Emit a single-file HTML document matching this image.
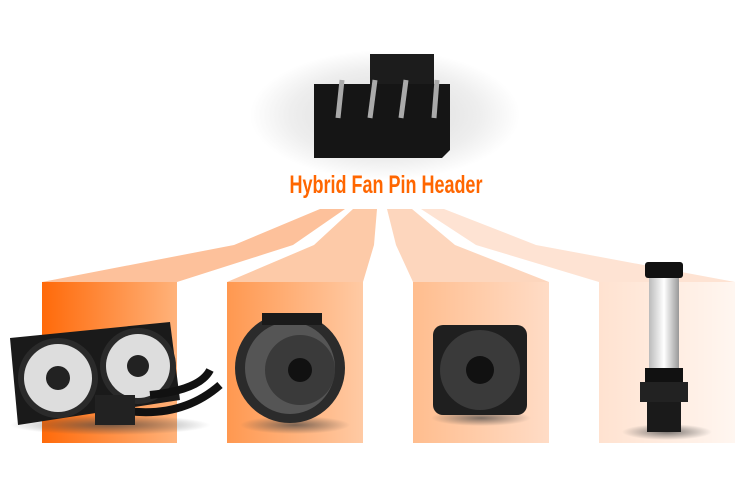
<!DOCTYPE html>
<html><head><meta charset="utf-8"><style>
html,body{margin:0;padding:0;background:#fff;width:735px;height:501px;overflow:hidden;font-family:"Liberation Sans",sans-serif}
</style></head><body>
<svg width="735" height="501" viewBox="0 0 735 501" xmlns="http://www.w3.org/2000/svg">
<defs>
<linearGradient id="g1" x1="0" x2="1"><stop offset="0" stop-color="#ff6a0a"/><stop offset="1" stop-color="#ffb27a"/></linearGradient>
<linearGradient id="g2" x1="0" x2="1"><stop offset="0" stop-color="#ff9850"/><stop offset="1" stop-color="#ffcaa4"/></linearGradient>
<linearGradient id="g3" x1="0" x2="1"><stop offset="0" stop-color="#ffbd8e"/><stop offset="1" stop-color="#ffdcc6"/></linearGradient>
<linearGradient id="g4" x1="0" x2="1"><stop offset="0" stop-color="#ffe2d0"/><stop offset="1" stop-color="#fff6f0"/></linearGradient>
<radialGradient id="bg" cx="0.5" cy="0.5" r="0.5"><stop offset="0" stop-color="#d8d8d8"/><stop offset="0.7" stop-color="#eee"/><stop offset="1" stop-color="#fff"/></radialGradient>
<radialGradient id="sh" cx="0.5" cy="0.5" r="0.5"><stop offset="0" stop-color="#444" stop-opacity=".7"/><stop offset="1" stop-color="#444" stop-opacity="0"/></radialGradient>
<linearGradient id="tube" x1="0" x2="1"><stop offset="0" stop-color="#bbb"/><stop offset=".5" stop-color="#fff"/><stop offset="1" stop-color="#999"/></linearGradient>
</defs>
<ellipse cx="385" cy="115" rx="135" ry="65" fill="url(#bg)"/>
<rect x="370" y="54" width="64" height="30" fill="#1c1c1c"/>
<polygon points="314,84 450,84 450,150 442,158 314,158" fill="#151515"/>
<g stroke="#aaa" stroke-width="5"><line x1="342" y1="80" x2="338" y2="118"/><line x1="375" y1="80" x2="370" y2="118"/><line x1="406" y1="80" x2="401" y2="118"/><line x1="437" y1="80" x2="434" y2="118"/></g>
<text x="386" y="193" text-anchor="middle" font-size="25" font-weight="bold" fill="#ff6600" transform="translate(386 0) scale(0.72 1) translate(-386 0)">Hybrid Fan Pin Header</text>
<polygon points="320,209 345,209 293,245 177,282 42,282 234,245" fill="#fdc19b"/>
<polygon points="353,209 377,209 374,245 363,282 227,282 314,245" fill="#fdcaa8"/>
<polygon points="387,209 412,209 455,245 549,282 413,282 396,245" fill="#fdd6bd"/>
<polygon points="421,209 444,209 536,245 735,282 599,282 476,245" fill="#fee3d3"/>
<rect x="42" y="282" width="135" height="161" fill="url(#g1)"/>
<rect x="227" y="282" width="136" height="161" fill="url(#g2)"/>
<rect x="413" y="282" width="136" height="161" fill="url(#g3)"/>
<rect x="599" y="282" width="136" height="161" fill="url(#g4)"/>
<ellipse cx="110" cy="425" rx="100" ry="10" fill="url(#sh)"/>
<ellipse cx="295" cy="425" rx="55" ry="9" fill="url(#sh)"/>
<ellipse cx="481" cy="418" rx="50" ry="8" fill="url(#sh)"/>
<ellipse cx="667" cy="432" rx="45" ry="8" fill="url(#sh)"/>
<polygon points="10,338 170,322 180,400 18,425" fill="#1a1a1a"/>
<circle cx="58" cy="378" r="40" fill="#2a2a2a"/><circle cx="58" cy="378" r="34" fill="#ddd"/><circle cx="58" cy="378" r="12" fill="#222"/>
<circle cx="138" cy="366" r="38" fill="#2a2a2a"/><circle cx="138" cy="366" r="32" fill="#ddd"/><circle cx="138" cy="366" r="11" fill="#222"/>
<path d="M150 395 Q200 390 210 370 M120 410 Q180 420 220 385" stroke="#111" stroke-width="8" fill="none"/>
<rect x="95" y="395" width="40" height="30" fill="#222"/>
<ellipse cx="290" cy="368" rx="55" ry="55" fill="#2b2b2b"/>
<ellipse cx="290" cy="368" rx="45" ry="46" fill="#555"/>
<circle cx="300" cy="370" r="35" fill="#3a3a3a"/><circle cx="300" cy="370" r="12" fill="#111"/>
<rect x="262" y="313" width="60" height="12" fill="#1a1a1a"/>
<rect x="433" y="325" width="94" height="90" rx="10" fill="#1f1f1f"/>
<circle cx="480" cy="370" r="40" fill="#3a3a3a"/><circle cx="480" cy="370" r="14" fill="#111"/>
<rect x="645" y="262" width="38" height="16" rx="3" fill="#111"/>
<rect x="649" y="278" width="30" height="90" fill="url(#tube)"/>
<rect x="645" y="368" width="38" height="14" fill="#111"/>
<rect x="640" y="382" width="48" height="20" fill="#222"/>
<rect x="647" y="402" width="34" height="30" fill="#1a1a1a"/>
</svg>
</body></html>
